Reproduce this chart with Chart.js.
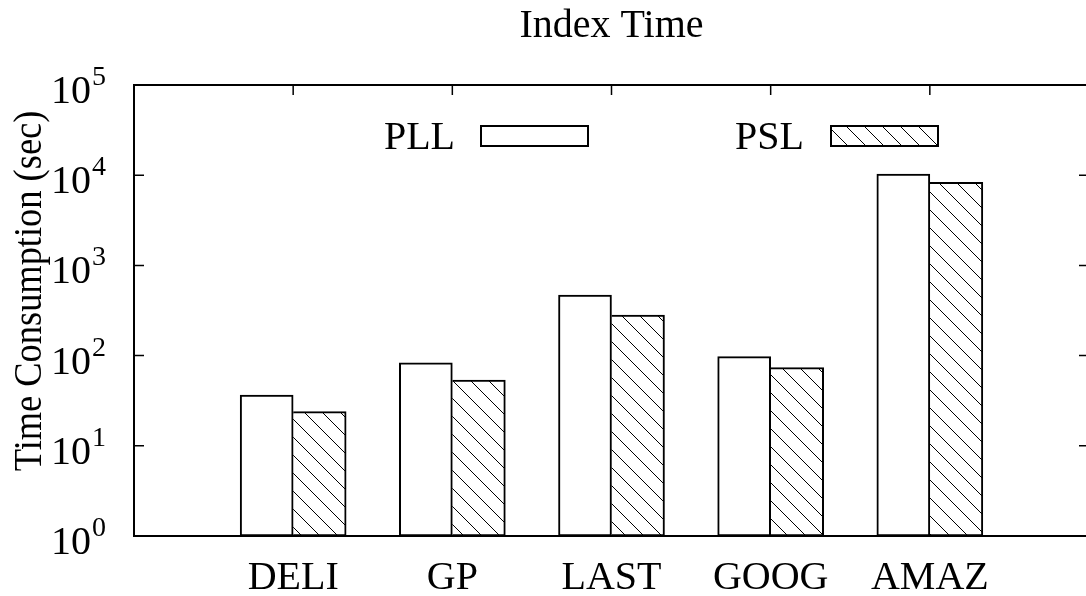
<!DOCTYPE html>
<html>
<head>
<meta charset="utf-8">
<title>Index Time</title>
<script src="https://cdn.jsdelivr.net/npm/chart.js@4.4.1/dist/chart.umd.min.js"></script>
<style>
  html, body { margin: 0; padding: 0; background: #fff; overflow: hidden; }
  #wrap { width: 1094px; height: 596px; }
</style>
</head>
<body>
<div id="wrap"><canvas id="chartIndex" width="1094" height="596"></canvas></div>
<script>
// ====================================================
//  1. DATA
// ====================================================
const categories = ["DELI", "GP", "LAST", "GOOG", "AMAZ"];
const pllTimes = [36.6, 83.4, 470, 97.3, 10300];
const pslTimes = [23.9, 53.6, 282, 73.5, 8340];
const yTickValues = [1, 10, 100, 1000, 10000, 100000];
const yTickExponents = ["0", "1", "2", "3", "4", "5"];
const seriesNames = ["PLL", "PSL"];
const chartTitle = "Index Time";
const yAxisTitle = "Time Consumption (sec)";

// ----------------------------------------------------
//  STYLE
// ----------------------------------------------------
const FONT = '"Liberation Serif", "DejaVu Serif", serif';
const TICK_LEN = 10;

function makeHatch() {
  const s = 18;
  const c = document.createElement("canvas");
  c.width = s;
  c.height = s;
  const g = c.getContext("2d");
  g.fillStyle = "#fff";
  g.fillRect(0, 0, s, s);
  g.strokeStyle = "#000";
  g.lineWidth = 1;
  g.beginPath();
  g.moveTo(-2, -2);
  g.lineTo(s + 2, s + 2);
  g.moveTo(s - 2, -2);
  g.lineTo(s + 2, 2);
  g.moveTo(-2, s - 2);
  g.lineTo(2, s + 2);
  g.stroke();
  return g.createPattern(c, "repeat");
}

const hatch = makeHatch();

// ====================================================
//  2. FRAME, TICKS AND TEXT (gnuplot look)
// ====================================================
const gnuplotDecor = {
  id: "gnuplotDecor",
  afterDatasetsDraw(chart) {
    const { ctx, chartArea: a, scales } = chart;
    const x = scales.x;
    const y = scales.y;
    ctx.save();
    ctx.strokeStyle = "#000";

    // ticks
    ctx.lineWidth = 1.5;
    ctx.beginPath();
    yTickValues.forEach((v) => {
      const py = y.getPixelForValue(v);
      ctx.moveTo(a.left, py);
      ctx.lineTo(a.left + TICK_LEN, py);
      ctx.moveTo(a.right, py);
      ctx.lineTo(a.right - TICK_LEN, py);
    });
    categories.forEach((c, i) => {
      const px = x.getPixelForValue(i);
      ctx.moveTo(px, a.top);
      ctx.lineTo(px, a.top + TICK_LEN);
    });
    ctx.stroke();

    // frame
    ctx.lineWidth = 2;
    ctx.strokeRect(a.left, a.top, a.right - a.left, a.bottom - a.top);

    // y tick labels 10^n
    ctx.fillStyle = "#000";
    ctx.textBaseline = "alphabetic";
    yTickValues.forEach((v, i) => {
      const py = y.getPixelForValue(v);
      ctx.font = "40px " + FONT;
      ctx.textAlign = "right";
      ctx.fillText("10", 91, py + 18);
      ctx.font = "28px " + FONT;
      ctx.textAlign = "left";
      ctx.fillText(yTickExponents[i], 92, py);
    });

    // x category labels
    ctx.font = "40px " + FONT;
    ctx.textAlign = "center";
    categories.forEach((c, i) => {
      ctx.fillText(c, x.getPixelForValue(i), 589);
    });

    // title
    ctx.fillText(chartTitle, (a.left + a.right) / 2, 37);

    // y axis title
    ctx.save();
    ctx.translate(41, 291);
    ctx.rotate(-Math.PI / 2);
    ctx.scale(0.91, 1);
    ctx.fillText(yAxisTitle, 0, 0);
    ctx.restore();

    // legend
    const legendItems = [
      { textRight: 455, boxLeft: 481, fill: "#fff" },
      { textRight: 804, boxLeft: 831, fill: hatch },
    ];
    legendItems.forEach((item, i) => {
      ctx.textAlign = "right";
      ctx.fillStyle = "#000";
      ctx.fillText(seriesNames[i], item.textRight, 149);
      ctx.fillStyle = item.fill;
      ctx.fillRect(item.boxLeft, 126, 107, 20);
      ctx.lineWidth = 2;
      ctx.strokeRect(item.boxLeft, 126, 107, 20);
    });

    ctx.restore();
  },
};

// ====================================================
//  3. CHART
// ====================================================
const ctx = document.getElementById("chartIndex").getContext("2d");

new Chart(ctx, {
  type: "bar",
  data: {
    datasets: [
      {
        label: seriesNames[0],
        data: pllTimes.map((v, i) => ({ x: i, y: v })),
        backgroundColor: "#fff",
        borderColor: "#000",
        borderWidth: 2,
        borderSkipped: false,
        barThickness: 53,
      },
      {
        label: seriesNames[1],
        data: pslTimes.map((v, i) => ({ x: i, y: v })),
        backgroundColor: hatch,
        borderColor: "#000",
        borderWidth: 2,
        borderSkipped: "left",
        barThickness: 53,
      },
    ],
  },
  options: {
    responsive: false,
    animation: false,
    layout: {
      padding: { left: 134, top: 85, right: 5, bottom: 60 },
    },
    scales: {
      x: {
        type: "linear",
        min: -1,
        max: 5,
        offset: false,
        grid: { offset: false },
        display: false,
      },
      y: { type: "logarithmic", min: 1, max: 100000, display: false },
    },
    plugins: {
      legend: { display: false },
      title: { display: false },
      tooltip: { enabled: false },
    },
  },
  plugins: [gnuplotDecor],
});
</script>
</body>
</html>
